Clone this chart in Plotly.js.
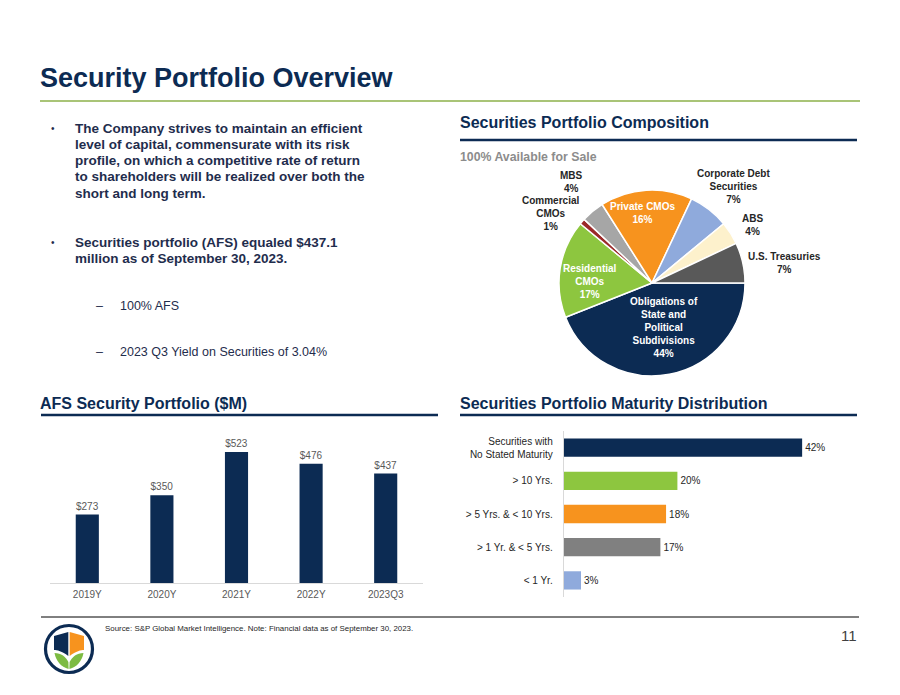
<!DOCTYPE html>
<html><head><meta charset="utf-8">
<script src="https://cdn.plot.ly/plotly-3.0.1.min.js"></script>
<style>html,body{margin:0;padding:0;background:#fff}#chart{width:900px;height:695px}</style>
</head><body><div id="chart"></div>
<script>
// ---- Data ----
const afsYears = ['2019Y','2020Y','2021Y','2022Y','2023Q3'];
const afsValues = [273,350,523,476,437];

const compLabels = ['Obligations of<br>State and<br>Political<br>Subdivisions','Residential<br>CMOs','Commercial<br>CMOs','MBS','Private CMOs','Corporate Debt<br>Securities','ABS','U.S. Treasuries'];
const compValues = [44,17,1,4,16,7,4,7];
const compColors = ['#0c2b53','#8dc63f','#9b2a2a','#a6a6a6','#f7931e','#8faadc','#fdf1cc','#595959'];

const matLabels = ['Securities with<br>No Stated Maturity','&gt; 10 Yrs.','&gt; 5 Yrs. &amp; &lt; 10 Yrs.','&gt; 1 Yr. &amp; &lt; 5 Yrs.','&lt; 1 Yr.'];
const matValues = [42,20,18,17,3];
const matColors = ['#0c2b53','#8dc63f','#f7931e','#808080','#8faadc'];

const bullet1 = ['The Company strives to maintain an efficient','level of capital, commensurate with its risk','profile, on which a competitive rate of return','to shareholders will be realized over both the','short and long term.'];
const bullet2 = ['Securities portfolio (AFS) equaled $437.1','million as of September 30, 2023.'];
const subBullets = ['100% AFS','2023 Q3 Yield on Securities of 3.04%'];

// ---- helpers (pixel -> paper) ----
const W = 900, H = 695;
const X = p => p / W;
const Y = p => 1 - p / H;
const FONT = 'Liberation Sans, Arial, sans-serif';
const NAVY = '#0c2b53';
const annotations = [];
function txt(x, y, text, size, color, bold, xanchor, extra) {
  annotations.push(Object.assign({
    xref: 'paper', yref: 'paper', x: X(x), y: Y(y),
    text: bold ? '<b>' + text + '</b>' : text,
    showarrow: false, xanchor: xanchor || 'left', yanchor: 'middle',
    align: xanchor === 'center' ? 'center' : 'left',
    borderpad: 0,
    font: {family: FONT, size: size, color: color}
  }, extra || {}));
}
const P = s => s.replace(/(-?\d+\.?\d*),(-?\d+\.?\d*)/g, (m, a, b) => X(+a).toFixed(5) + ',' + Y(+b).toFixed(5));
const shapes = [];
function hline(x0, x1, y, color, width) {
  shapes.push({type: 'line', xref: 'paper', yref: 'paper', x0: X(x0), x1: X(x1), y0: Y(y), y1: Y(y), line: {color: color, width: width}});
}

// ---- Slide texts ----
txt(39, 78, 'Security Portfolio Overview', 27, NAVY, true);
hline(40, 860, 101, '#8db04a', 1.5);

const bulletColor = '#1f2d4d';
txt(50, 128, '•', 10, bulletColor, false);
bullet1.forEach((t, i) => txt(74, 128 + i * 16.3, t, 13.5, bulletColor, true));
txt(50, 242, '•', 10, bulletColor, false);
bullet2.forEach((t, i) => txt(74, 242 + i * 16.3, t, 13.5, bulletColor, true));
subBullets.forEach((t, i) => {
  txt(95, 306 + i * 46, '–', 12.5, bulletColor, false);
  txt(119, 306 + i * 46, t, 12.5, bulletColor, false);
});

txt(459, 122, 'Securities Portfolio Composition', 16, NAVY, true);
hline(460, 857, 140, NAVY, 2.5);
txt(459, 157, '100% Available for Sale', 12.3, '#8c8c8c', true);

txt(39, 403, 'AFS Security Portfolio ($M)', 16, NAVY, true);
hline(41, 438, 415, NAVY, 2.5);
txt(459, 403, 'Securities Portfolio Maturity Distribution', 16, NAVY, true);
hline(460, 857, 415, NAVY, 2.5);

hline(41, 859, 617, '#000000', 1);
txt(104, 628, 'Source: S&amp;P Global Market Intelligence. Note: Financial data as of September 30, 2023.', 7.9, '#262626', false);
txt(858, 635, '11', 15, '#404040', false, 'right');

// ---- Pie labels (text from data arrays) ----
const pieLabelPos = [[664, 327.5, '#ffffff'], [590, 281, '#ffffff'], [550, 214, '#262626'], [571, 182, '#262626'],
                     [642, 213, '#ffffff'], [733, 186.5, '#262626'], [752, 225, '#262626'], [784, 263, '#262626']];
compLabels.forEach((lab, i) => {
  const p = pieLabelPos[i];
  txt(p[0], p[1], lab + '<br>' + compValues[i] + '%', 10, p[2], true, 'center');
});

// ---- Logo ----
shapes.push({type: 'circle', xref: 'paper', yref: 'paper', x0: X(45.5), x1: X(92.5), y0: Y(672.5), y1: Y(625.5), line: {color: NAVY, width: 3.2}});
shapes.push({type: 'path', xref: 'paper', yref: 'paper', path: P('M54,636 L68.3,632 L68.3,656 C62,651 57,650 54,650 Z'), fillcolor: NAVY, line: {width: 0}});
shapes.push({type: 'path', xref: 'paper', yref: 'paper', path: P('M69.7,632 L84,636 L84,650 C81,650 76,651 69.7,656 Z'), fillcolor: '#f7931e', line: {width: 0}});
shapes.push({type: 'path', xref: 'paper', yref: 'paper', path: P('M54.5,653 C61,653 66,657 68.4,662 L68.6,669 C61,667 56,661 54.5,653 Z'), fillcolor: '#7dbb42', line: {width: 0}});
shapes.push({type: 'path', xref: 'paper', yref: 'paper', path: P('M83.5,653 C77,653 72,657 69.6,662 L69.4,669 C77,667 82,661 83.5,653 Z'), fillcolor: '#7dbb42', line: {width: 0}});

// ---- Traces ----
const traces = [
  {
    type: 'bar', x: afsYears, y: afsValues, xaxis: 'x', yaxis: 'y', width: 0.31,
    marker: {color: NAVY}, texttemplate: '$%{y}', textposition: 'outside', cliponaxis: false,
    textfont: {family: FONT, size: 10, color: '#595959'}, hoverinfo: 'skip'
  },
  {
    type: 'bar', orientation: 'h', y: matLabels, x: matValues, xaxis: 'x2', yaxis: 'y2', width: 0.55,
    marker: {color: matColors}, texttemplate: '%{x}%', textposition: 'outside', cliponaxis: false,
    textfont: {family: FONT, size: 10, color: '#262626'}, hoverinfo: 'skip'
  },
  {
    type: 'pie', values: compValues, labels: compLabels, sort: false, direction: 'clockwise', rotation: 90,
    textinfo: 'none', hoverinfo: 'skip', showlegend: false,
    marker: {colors: compColors, line: {color: '#ffffff', width: 1.5}},
    domain: {x: [X(559), X(745)], y: [Y(376), Y(190)]}
  }
];

const layout = {
  width: W, height: H, margin: {l: 0, r: 0, t: 0, b: 0},
  paper_bgcolor: '#ffffff', plot_bgcolor: 'rgba(0,0,0,0)',
  showlegend: false, hovermode: false,
  font: {family: FONT},
  xaxis: {domain: [X(50), X(423)], anchor: 'y', type: 'category', showline: true, linecolor: '#d9d9d9', linewidth: 1.3,
          showgrid: false, zeroline: false, ticks: 'outside', ticklen: 2, tickcolor: 'rgba(0,0,0,0)',
          tickfont: {family: FONT, size: 10, color: '#595959'}, fixedrange: true},
  yaxis: {domain: [Y(583), Y(583 - 150.3)], anchor: 'x', range: [0, 600], visible: false, fixedrange: true},
  xaxis2: {domain: [X(564), X(564 + 283.5)], anchor: 'y2', range: [0, 50], visible: false, fixedrange: true},
  yaxis2: {domain: [Y(597), Y(431)], anchor: 'x2', type: 'category', autorange: 'reversed', showline: true,
           linecolor: '#d9d9d9', linewidth: 1.3, showgrid: false, zeroline: false, ticks: 'outside', ticklen: 8,
           tickcolor: 'rgba(0,0,0,0)', tickfont: {family: FONT, size: 10, color: '#262626'}, fixedrange: true},
  annotations: annotations,
  shapes: shapes
};

Plotly.newPlot('chart', traces, layout, {displayModeBar: false, staticPlot: true});
</script>
</body></html>
